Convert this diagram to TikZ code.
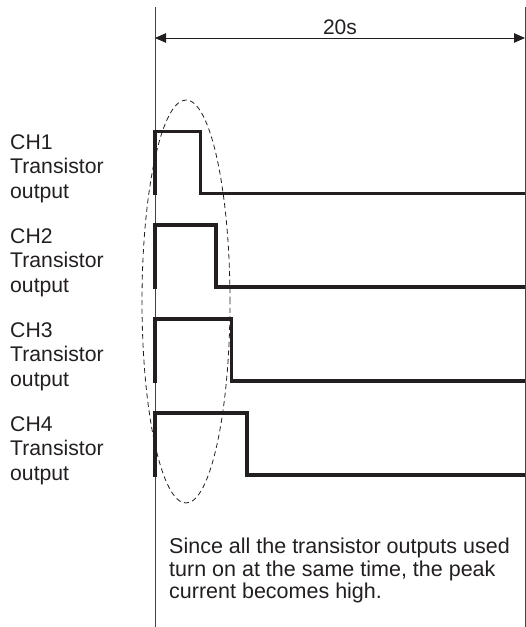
\documentclass[tikz,border=0pt]{standalone}
\usepackage{fontspec}
\setmainfont{Liberation Sans}
\usetikzlibrary{arrows.meta}
\definecolor{ink}{HTML}{231F20}
\begin{document}
\begin{tikzpicture}[x=1pt,y=-1pt,
  thinline/.style={draw=ink!85,line width=0.9pt},
  wave/.style={draw=ink,line width=3.1pt,line join=miter,line cap=butt},
  lbl/.style={anchor=north west,inner sep=0pt,align=left,text=ink,
    font=\fontsize{21.2}{24.5}\selectfont},
  note/.style={anchor=north west,inner sep=0pt,align=left,text=ink,
    font=\fontsize{21.5}{22.5}\selectfont},
  dim/.style={draw=ink,line width=0.9pt,{Triangle[length=11pt,width=9.5pt]}-{Triangle[length=11pt,width=9.5pt]}},
  group/.style={draw=ink,line width=0.8pt,dash pattern=on 5pt off 3.5pt}]
\useasboundingbox (0,0) rectangle (526,627);
% axis lines
\coordinate (Ltop) at (155,7);
\coordinate (Lbot) at (155,627);
\coordinate (Rtop) at (525,7);
\coordinate (Rbot) at (525,627);
\draw[thinline] (Ltop) -- (Lbot);
\draw[thinline] (Rtop) -- (Rbot);
% dimension arrow
\coordinate (A1) at (155,38);
\coordinate (A2) at (525,38);
\draw[dim] (A1) -- node[above=3pt,text=ink,font=\fontsize{21}{24}\selectfont,inner sep=0pt] (T20) {20s} (A2);
% waveforms
\foreach \hi/\lo/\fx in {131.5/193.5/200.5, 225/287/216, 319/381/231.5, 413/475/247}{
  \draw[wave] (155,\lo+1.5) -- (155,\hi) -- (\fx,\hi) -- (\fx,\lo) -- (525,\lo);
}
% group ellipse
\draw[group] (186,301.5) ellipse [x radius=44pt, y radius=201.5pt];
% labels
\node[lbl] (ch1) at (10,134) {CH1\\Transistor\\output};
\node[lbl] (ch2) at (10,228) {CH2\\Transistor\\output};
\node[lbl] (ch3) at (10,322) {CH3\\Transistor\\output};
\node[lbl] (ch4) at (10,416) {CH4\\Transistor\\output};
\node[note] (msg) at (169,538) {Since all the transistor outputs used\\turn on at the same time, the peak\\current becomes high.};
\end{tikzpicture}
\end{document}
